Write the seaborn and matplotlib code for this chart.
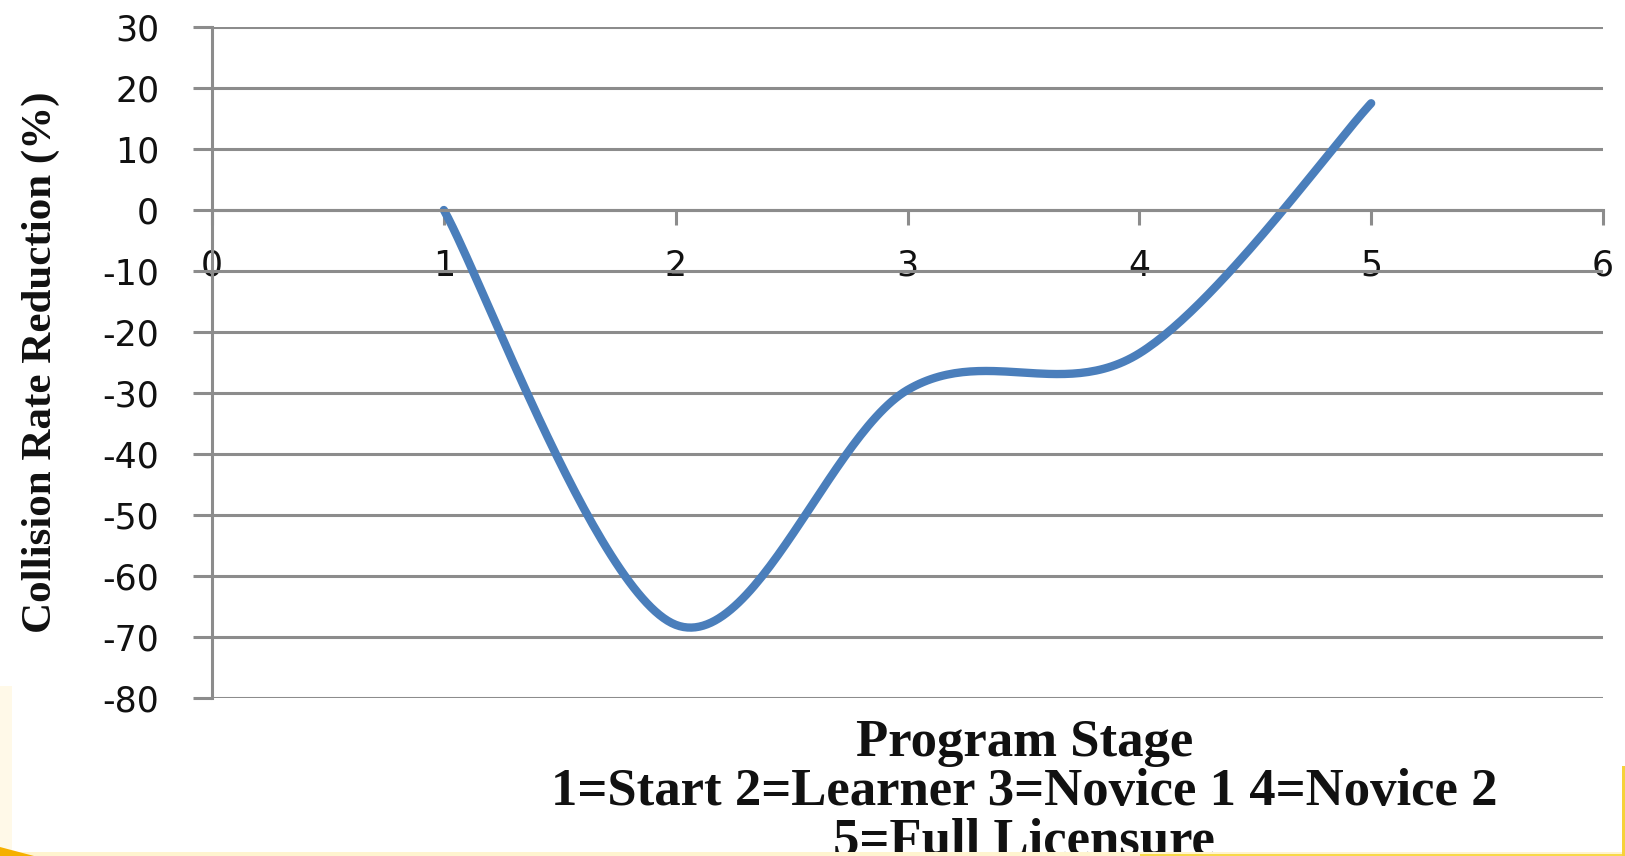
import numpy as np
import pandas as pd
import matplotlib
matplotlib.use("Agg")
import matplotlib.pyplot as plt
from matplotlib.patches import Rectangle, Polygon
import seaborn as sns

# Program stage vs. collision rate reduction
stages = [1, 2, 3, 4, 5]
reduction = [0, -68, -29.5, -23.5, 17.5]
x_ticks = [0, 1, 2, 3, 4, 5, 6]
y_ticks = [30, 20, 10, 0, -10, -20, -30, -40, -50, -60, -70, -80]

y_label = "Collision Rate Reduction (%)"
x_label = "Program Stage\n1=Start 2=Learner 3=Novice 1 4=Novice 2\n5=Full Licensure"

LINE_BLUE = "#4A7EBB"
GRID_GRAY = "#8C8C8C"


def smooth_curve(xs, ys, n=60):
    """Bezier smoothing through every point (tension 1/6, end points repeated)."""
    pts = np.column_stack([xs, ys]).astype(float)
    out = []
    for i in range(len(pts) - 1):
        p0 = pts[max(i - 1, 0)]
        p1 = pts[i]
        p2 = pts[i + 1]
        p3 = pts[min(i + 2, len(pts) - 1)]
        c1 = p1 + (p2 - p0) / 6.0
        c2 = p2 - (p3 - p1) / 6.0
        t = np.linspace(0, 1, n)[:, None]
        seg = ((1 - t) ** 3) * p1 + 3 * ((1 - t) ** 2) * t * c1 \
            + 3 * (1 - t) * t ** 2 * c2 + t ** 3 * p2
        out.append(seg if i == 0 else seg[1:])
    return np.vstack(out)


curve = smooth_curve(stages, reduction)
df = pd.DataFrame({"stage": curve[:, 0], "reduction": curve[:, 1]})

sns.set_theme(style="white")
plt.rcParams["font.family"] = ["DejaVu Sans"]

W, H = 1625, 856
fig = plt.figure(figsize=(W / 100, H / 100), dpi=100)
fig.patch.set_facecolor("white")


# slide background edges peeking in at the bottom / sides
def frect(x0, y0, w, h, color, z=0):
    fig.patches.append(Rectangle((x0 / W, y0 / H), w / W, h / H,
                                 transform=fig.transFigure, color=color,
                                 zorder=z, linewidth=0))


frect(0, 0, 12, 170, "#FFF9E8")
frect(0, 0, W, 4, "#FFF4CF")
frect(1140, 0, W - 1140, 2, "#F8D948")
frect(W - 3, 0, 3, 90, "#F6D23A")
fig.patches.append(Polygon([(0, 0), (34 / W, 0), (0, 9 / H)], closed=True,
                           transform=fig.transFigure, color="#F5B000",
                           linewidth=0))

ax = fig.add_axes([212 / W, 158 / H, 1391 / W, 671 / H])
ax.set_facecolor("white")

sns.lineplot(data=df, x="stage", y="reduction", sort=False, estimator=None,
             color=LINE_BLUE, linewidth=6.0, solid_capstyle="round", ax=ax)

ax.set_xlim(0, 6)
ax.set_ylim(-80, 30)
ax.set_xticks(x_ticks)
ax.set_xticklabels([str(v) for v in x_ticks])
ax.set_yticks(y_ticks)
ax.set_yticklabels([str(v) for v in y_ticks])

# horizontal gridlines, axis lines
ax.yaxis.grid(True, color=GRID_GRAY, linewidth=2.2)
ax.xaxis.grid(False)
ax.set_axisbelow(True)
for side in ["top", "right"]:
    ax.spines[side].set_visible(False)
ax.spines["left"].set_color(GRID_GRAY)
ax.spines["left"].set_linewidth(2.2)
ax.spines["left"].set_position(("data", 0))

# x axis runs along the zero line
ax.spines["bottom"].set_position(("data", 0))
ax.spines["bottom"].set_color(GRID_GRAY)
ax.spines["bottom"].set_linewidth(2.2)

ax.tick_params(axis="y", which="major", direction="out", length=14,
               width=2.2, color=GRID_GRAY, pad=24, labelsize=25,
               labelcolor="#111111", left=True)
ax.tick_params(axis="x", which="major", direction="out", length=11,
               width=2.2, color=GRID_GRAY, pad=17, labelsize=25,
               labelcolor="#111111", bottom=True)

serif = ["Liberation Serif", "DejaVu Serif"]
ax.set_ylabel(y_label, fontsize=31, fontweight="bold", family=serif,
              color="#111111")
ax.yaxis.set_label_coords(-0.109, 0.5)

ax.set_xlabel(x_label, fontsize=38, fontweight="bold", family=serif,
              color="#111111", linespacing=1.04)
ax.xaxis.set_label_coords(0.584, -0.031)

fig.savefig("out.png", dpi=100, facecolor="white")
